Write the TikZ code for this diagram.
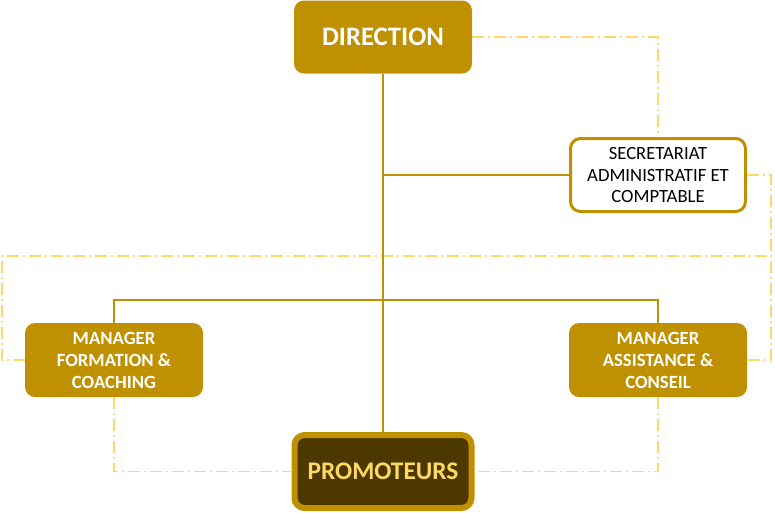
\documentclass[tikz,border=0pt]{standalone}
\usepackage{fontspec}
\setmainfont{Carlito}
\usepackage{tikz}

\definecolor{gold}{RGB}{191,144,0}
\definecolor{darkgold}{RGB}{77,57,0}
\definecolor{lightgold}{RGB}{255,217,102}

\begin{document}
\begin{tikzpicture}[
		x=0.75pt, y=-0.75pt,
		every node/.style={rectangle, rounded corners=7.5pt, inner sep=0pt, align=center},
		boss/.style={fill=gold, text=white, font=\fontsize{20}{24}\selectfont\bfseries,
			minimum width=133.5pt, minimum height=54.75pt},
		staff/.style={draw=gold, line width=2.25pt, fill=white, text=black,
			font=\fontsize{14}{16}\selectfont, minimum width=131.25pt, minimum height=54.75pt},
		manager/.style={fill=gold, text=white, font=\fontsize{14}{16.5}\selectfont\bfseries,
			minimum width=133.5pt, minimum height=55.5pt},
		base/.style={draw=gold, line width=4.5pt, fill=darkgold, text=lightgold,
			font=\fontsize{19}{23}\selectfont\bfseries, minimum width=132.75pt, minimum height=54.75pt},
		link/.style={draw=gold, line width=1.5pt},
		dotlink/.style={draw=lightgold, line width=1.4pt,
			dash pattern=on 9pt off 3pt on 1.5pt off 3pt}
	]
  \useasboundingbox (0,0) rectangle (775,512);
  % dash-dot links behind the boxes
  \coordinate (leftrail) at (2,256);
  \coordinate (rightrail) at (771,256);
  \node (direction) [boss] at (383,37) {DIRECTION};
  \node (secretariat) [staff] at (658,175) {SECRETARIAT\\ADMINISTRATIF ET\\COMPTABLE};
  \node (formation) [manager] at (114,360) {MANAGER\\FORMATION \&\\COACHING};
  \node (assistance) [manager] at (658,360) {MANAGER\\ASSISTANCE \&\\CONSEIL};
  \node (promoteurs) [base] at (383,471.5) {PROMOTEURS};
  \coordinate (split) at (383,300);
  \draw [dotlink] (direction.east) -| (secretariat.north);
  \draw [dotlink] (secretariat.east) -| (rightrail) |- (assistance.east);
  \draw [dotlink] (formation.west) -| (leftrail) -- (rightrail);
  \draw [dotlink] (formation.south) |- (promoteurs.west);
  \draw [dotlink] (assistance.south) |- (promoteurs.east);
  % solid links
  \draw [link] (direction.south) -- (promoteurs.north);
  \draw [link] (secretariat.west) -- (secretariat.west -| direction.south);
  \draw [link] (formation.north) |- (split) -| (assistance.north);
\end{tikzpicture}
\end{document}
